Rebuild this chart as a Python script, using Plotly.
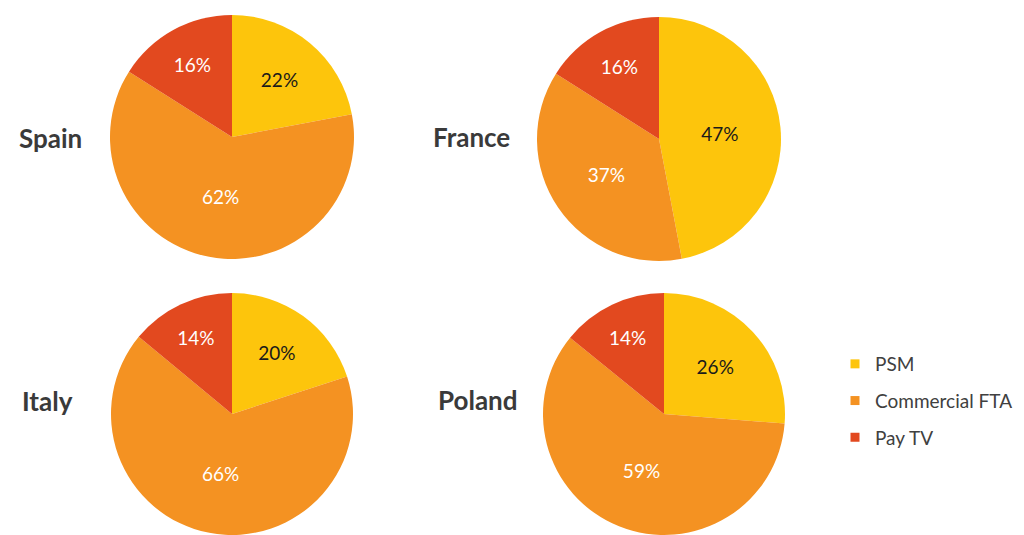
import plotly.graph_objects as go

categories = ["PSM", "Commercial FTA", "Pay TV"]
countries = ["Spain", "France", "Italy", "Poland"]
spain = [22, 62, 16]
france = [47, 37, 16]
italy = [20, 66, 14]
poland = [26, 59, 14]
colors = ["#FDC50C", "#F49222", "#E2491F"]
text_colors = ["#1a1a1a", "#FFFFFF", "#FFFFFF"]

# page has an 8px body margin; figure coordinates = page coordinates - 8
OFF = 8
W, H = 1024 - OFF, 535 - OFF

def dom(cx, cy, r):
    cx -= OFF
    cy -= OFF
    x0 = (cx - r) / W
    x1 = (cx + r) / W
    y0 = max(0.0, (H - (cy + r)) / H)
    y1 = min(1.0, (H - (cy - r)) / H)
    return dict(x=[x0, x1], y=[y0, y1])

layout_pos = {
    "Spain": (232, 137, 122),
    "France": (659, 139, 122),
    "Italy": (232, 414, 121),
    "Poland": (664, 414, 121),
}
values = {"Spain": spain, "France": france, "Italy": italy, "Poland": poland}
label_pos = {"Spain": (50, 138), "France": (471, 137), "Italy": (47, 401), "Poland": (478, 400)}

fig = go.Figure()
for c in countries:
    cx, cy, r = layout_pos[c]
    fig.add_trace(go.Pie(
        labels=categories, values=values[c], sort=False, direction="clockwise",
        rotation=0, domain=dom(cx, cy, r), showlegend=False,
        marker=dict(colors=colors, line=dict(width=0)),
        texttemplate="%{value}%", textposition="inside",
        insidetextorientation="horizontal",
        textfont=dict(family="Lato, sans-serif", size=19, color=text_colors),
        hoverinfo="label+value", name=c,
    ))

# legend entries
for i, cat in enumerate(categories):
    fig.add_trace(go.Scatter(
        x=[None], y=[None], mode="markers", name=cat,
        marker=dict(symbol="square", size=9, color=colors[i]),
        legendgroup=cat, showlegend=True,
    ))

annotations = []
for c in countries:
    lx, ly = label_pos[c]
    annotations.append(dict(
        text="<b>" + c + "</b>", x=(lx - OFF) / W, y=1 - (ly - OFF) / H,
        xref="paper", yref="paper",
        showarrow=False, xanchor="center", yanchor="middle",
        font=dict(family="Lato, sans-serif", size=26, color="#3a3a3a"),
    ))

fig.update_layout(
    width=W, height=H, margin=dict(l=0, r=0, t=0, b=0),
    paper_bgcolor="white", plot_bgcolor="white",
    xaxis=dict(visible=False), yaxis=dict(visible=False),
    annotations=annotations,
    legend=dict(x=827 / W, y=1 - 337 / H, xanchor="left", yanchor="top",
                font=dict(family="Lato, sans-serif", size=19, color="#404040"),
                tracegroupgap=9, itemwidth=30, bgcolor="rgba(0,0,0,0)"),
)

fig.write_html("out.html")
